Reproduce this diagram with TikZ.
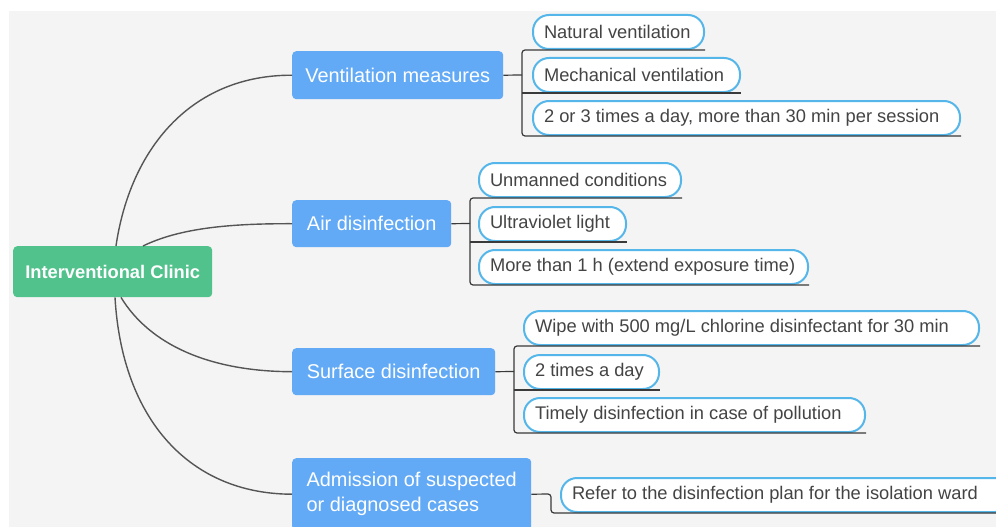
\documentclass[tikz,border=0pt]{standalone}
\usepackage{fontspec}
\setmainfont{Liberation Sans}
\definecolor{bgc}{HTML}{F4F4F4}
\definecolor{rootgreen}{HTML}{52C28C}
\definecolor{bluefill}{HTML}{63AAF6}
\definecolor{leafblue}{HTML}{55B6E9}
\definecolor{linegrey}{HTML}{555555}
\definecolor{ulgrey}{HTML}{3A3A3A}
\definecolor{leaftext}{HTML}{444444}
\newcommand{\leaftxt}[2]{\makebox[#1pt][l]{#2}}
\begin{document}
\begin{tikzpicture}[x=1pt,y=-1pt,
  rootbox/.style={fill=rootgreen, rounded corners=4pt, text=white, font=\bfseries\fontsize{18.3}{22}\selectfont, anchor=north west, minimum width=199pt, minimum height=51pt, inner sep=0pt},
  mainbox/.style={fill=bluefill, rounded corners=4pt, text=white, font=\fontsize{19.9}{25}\selectfont, anchor=north west, minimum height=47pt, inner sep=0pt},
  leaf/.style={draw=leafblue, line width=2pt, fill=white, rounded corners=16pt, text=leaftext, font=\fontsize{18.3}{21}\selectfont, anchor=north west, minimum height=34pt, inner ysep=0pt, inner xsep=11pt},
  curve/.style={draw=linegrey, line width=1.4pt},
  uline/.style={draw=ulgrey, line width=1.2pt, rounded corners=3pt},
]
\useasboundingbox (0,0) rectangle (996,527);
\clip (0,0) rectangle (996,527);
\fill[white] (0,0) rectangle (996,527);
\fill[bgc] (9,11) rectangle (996,527);

% main nodes
\node[rootbox] (root) at (13,246) {Interventional Clinic};
\node[mainbox, minimum width=211pt, minimum height=48pt] (vent) at (292,51) {Ventilation measures};
\node[mainbox, minimum width=159pt] (air) at (292,200) {Air disinfection};
\node[mainbox, minimum width=203pt] (surf) at (292,348) {Surface disinfection};
\node[mainbox, minimum width=239pt, minimum height=72pt, align=left] (adm) at (292,458) {Admission of suspected\\or diagnosed cases};

% curves from root
\draw[curve] ([xshift=103pt]root.north west) .. controls (130,150) and (190,75) .. (vent.west);
\draw[curve] ([xshift=130pt]root.north west) .. controls (180,228) and (230,223.5) .. (air.west);
\draw[curve] ([xshift=108pt]root.south west) .. controls (150,345) and (210,371.5) .. (surf.west);
\draw[curve] ([xshift=102pt]root.south west) .. controls (122,420) and (190,494) .. (adm.west);

% leaves
\node[leaf] (v1) at (532,14) {\leaftxt{149}{Natural ventilation}};
\node[leaf] (v2) at (532,57) {\leaftxt{185}{Mechanical ventilation}};
\node[leaf] (v3) at (532,100) {\leaftxt{405}{2 or 3 times a day, more than 30 min per session}};

\node[leaf] (a1) at (478,162) {\leaftxt{180}{Unmanned conditions}};
\node[leaf] (a2) at (478,206) {\leaftxt{125}{Ultraviolet light}};
\node[leaf] (a3) at (478,249) {\leaftxt{307}{More than 1 h (extend exposure time)}};

\node[leaf] (s1) at (523,310) {\leaftxt{433}{Wipe with 500 mg/L chlorine disinfectant for 30 min}};
\node[leaf] (s2) at (523,354) {\leaftxt{113}{2 times a day}};
\node[leaf] (s3) at (523,397) {\leaftxt{319}{Timely disinfection in case of pollution}};

\node[leaf] (r1) at (560,477) {\leaftxt{428}{Refer to the disinfection plan for the isolation ward}};

% brackets
\coordinate (vb) at (522,75);
\draw[uline] (vent.east) -- (vb);
\draw[uline] (v1.south east) -- (v1.south -| vb) -- (v3.south -| vb) -- (v3.south east);
\draw[uline] (v2.south -| vb) -- (v2.south east);

\coordinate (ab) at (470,223.5);
\draw[uline] (air.east) -- (ab);
\draw[uline] (a1.south east) -- (a1.south -| ab) -- (a3.south -| ab) -- (a3.south east);
\draw[uline] (a2.south -| ab) -- (a2.south east);

\coordinate (sb) at (514,371.5);
\draw[uline] (surf.east) -- (sb);
\draw[uline] (s1.south east) -- (s1.south -| sb) -- (s3.south -| sb) -- (s3.south east);
\draw[uline] (s2.south -| sb) -- (s2.south east);

\coordinate (rb) at (551,494);
\draw[uline] (adm.east) -- (rb) -- (rb |- r1.south) -- (r1.south east);
\end{tikzpicture}
\end{document}
